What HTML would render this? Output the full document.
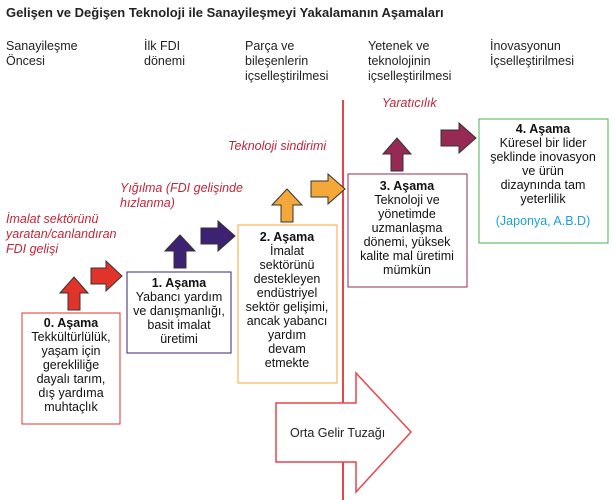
<!DOCTYPE html>
<html><head><meta charset="utf-8"><style>
body{margin:0;background:#fff;}
svg{display:block;font-family:"Liberation Sans",sans-serif;}
.h{font-size:12.5px;fill:#222;}
.r{font-size:12.5px;fill:#c0263a;font-style:italic;}
.b{font-size:12.5px;fill:#111;text-anchor:middle;}
.bb{font-weight:bold;}
</style></head><body>
<svg width="616" height="500" viewBox="0 0 616 500" xmlns="http://www.w3.org/2000/svg">
<text x="6" y="17" font-size="13" font-weight="bold" fill="#222">Gelişen ve Değişen Teknoloji ile Sanayileşmeyi Yakalamanın Aşamaları</text>
<text class="h" x="6" y="50">Sanayileşme</text><text class="h" x="6" y="65">Öncesi</text>
<text class="h" x="144" y="50">İlk FDI</text><text class="h" x="144" y="65">dönemi</text>
<text class="h" x="245" y="50">Parça ve</text><text class="h" x="245" y="65">bileşenlerin</text><text class="h" x="245" y="80">içselleştirilmesi</text>
<text class="h" x="368" y="50">Yetenek ve</text><text class="h" x="368" y="65">teknolojinin</text><text class="h" x="368" y="80">içselleştirilmesi</text>
<text class="h" x="490" y="50">İnovasyonun</text><text class="h" x="490" y="65">İçselleştirilmesi</text>

<line x1="343" y1="100" x2="343" y2="500" stroke="#e8454b" stroke-width="2"/>

<text class="r" x="382" y="107">Yaratıcılık</text>
<text class="r" x="228" y="150">Teknoloji sindirimi</text>
<text class="r" x="120" y="192">Yığılma (FDI gelişinde</text><text class="r" x="120" y="207">hızlanma)</text>
<text class="r" x="6" y="223">İmalat sektörünü</text><text class="r" x="6" y="238">yaratan/canlandıran</text><text class="r" x="6" y="253">FDI gelişi</text>

<g stroke="#333" stroke-width="1">
<path d="M60,293 L74,277 L88,293 L80,293 L80,310 L68,310 L68,293 Z" fill="#e2332b"/>
<path d="M91,268 L106,268 L106,261 L122,276 L106,291 L106,284 L91,284 Z" fill="#e2332b"/>
<path d="M165,251 L180,235 L195,251 L186,251 L186,268 L174,268 L174,251 Z" fill="#3d2172"/>
<path d="M201,228 L218,228 L218,221 L235,236 L218,251 L218,244 L201,244 Z" fill="#3d2172"/>
<path d="M272,205 L287,189 L302,205 L293,205 L293,222 L281,222 L281,205 Z" fill="#f4a83a"/>
<path d="M311,181 L328,181 L328,174 L345,189 L328,204 L328,197 L311,197 Z" fill="#f4a83a"/>
<path d="M383,154 L397,138 L411,154 L403,154 L403,171 L391,171 L391,154 Z" fill="#962a55"/>
<path d="M441,130 L459,130 L459,123 L476,138 L459,153 L459,146 L441,146 Z" fill="#962a55"/>
</g>

<rect x="22" y="313" width="98" height="111" fill="#fff" stroke="#e2332b"/>
<text class="b" x="71" y="327"><tspan class="bb">0. Aşama</tspan><tspan x="71" dy="14">Tekkültürlülük,</tspan><tspan x="71" dy="14">yaşam için</tspan><tspan x="71" dy="14">gerekliliğe</tspan><tspan x="71" dy="14">dayalı tarım,</tspan><tspan x="71" dy="14">dış yardıma</tspan><tspan x="71" dy="14">muhtaçlık</tspan></text>

<rect x="127" y="272" width="104" height="81" fill="#fff" stroke="#3d2172"/>
<text class="b" x="179" y="287"><tspan class="bb">1. Aşama</tspan><tspan x="179" dy="14">Yabancı yardım</tspan><tspan x="179" dy="14">ve danışmanlığı,</tspan><tspan x="179" dy="14">basit imalat</tspan><tspan x="179" dy="14">üretimi</tspan></text>

<rect x="238" y="225" width="99" height="158" fill="#fff" stroke="#f4a83a"/>
<text class="b" x="287" y="241"><tspan class="bb">2. Aşama</tspan><tspan x="287" dy="14">İmalat</tspan><tspan x="287" dy="14">sektörünü</tspan><tspan x="287" dy="14">destekleyen</tspan><tspan x="287" dy="14">endüstriyel</tspan><tspan x="287" dy="14">sektör gelişimi,</tspan><tspan x="287" dy="14">ancak yabancı</tspan><tspan x="287" dy="14">yardım</tspan><tspan x="287" dy="14">devam</tspan><tspan x="287" dy="14">etmekte</tspan></text>

<rect x="348" y="174" width="119" height="113" fill="#fff" stroke="#962a55"/>
<text class="b" x="407" y="190"><tspan class="bb">3. Aşama</tspan><tspan x="407" dy="14">Teknoloji ve</tspan><tspan x="407" dy="14">yönetimde</tspan><tspan x="407" dy="14">uzmanlaşma</tspan><tspan x="407" dy="14">dönemi, yüksek</tspan><tspan x="407" dy="14">kalite mal üretimi</tspan><tspan x="407" dy="14">mümkün</tspan></text>

<rect x="479" y="119" width="129" height="124" fill="#fff" stroke="#4caf50"/>
<text class="b" x="543" y="133"><tspan class="bb">4. Aşama</tspan><tspan x="543" dy="14">Küresel bir lider</tspan><tspan x="543" dy="14">şeklinde inovasyon</tspan><tspan x="543" dy="14">ve ürün</tspan><tspan x="543" dy="14">dizaynında tam</tspan><tspan x="543" dy="14">yeterlilik</tspan><tspan x="543" dy="22" fill="#1ba0d8">(Japonya, A.B.D)</tspan></text>

<path d="M276,403 L356,403 L356,373 L411,432 L356,492 L356,462 L276,462 Z" fill="#fff" stroke="#e8454b" stroke-width="1.5"/>
<text x="290" y="437" font-size="12.5" fill="#222">Orta Gelir Tuzağı</text>
</svg>
</body></html>
